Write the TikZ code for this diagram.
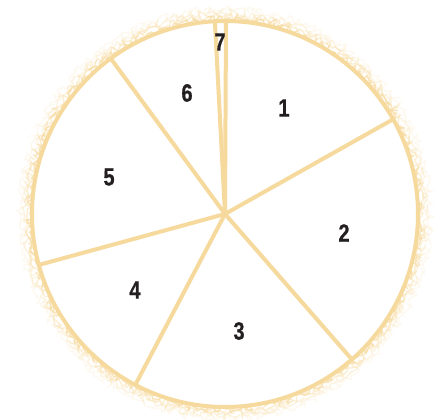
\documentclass[tikz,border=0pt]{standalone}
\usepackage{fontspec}
\setmainfont{Liberation Sans}
\newfontfamily\slicefont{Liberation Sans}[FakeStretch=0.8, FakeBold=0.6]
\usetikzlibrary{decorations.pathmorphing}
\definecolor{PieTan}{RGB}{246,217,157}
\definecolor{SliceInk}{RGB}{35,31,32}

\begin{document}
\begin{tikzpicture}[
x=1pt, y=1pt,
rim/.style={draw=PieTan, line width=4pt},
spoke/.style={draw=PieTan, line width=4pt, line cap=round},
fuzz/.style={draw=PieTan, line width=1.4pt, decorate, decoration={random steps, segment length=2.2pt, amplitude=3.5pt}},
slice/.style={font=\slicefont\bfseries\fontsize{25}{25}\selectfont, text=SliceInk, inner sep=0pt}
]
\useasboundingbox (0,0) rectangle (440,420);
\coordinate (c) at (225,206);
% rough halo round the rim
\pgfmathsetseed{11}
\foreach \w/\o in {195/0.7, 198/0.45, 201/0.3, 205/0.15}
  \draw[fuzz, opacity=\o] (c) circle (\w);
\draw[rim, fill=white] (c) circle (193);
% spokes
\foreach \a in {29.4, -48.9, -117.7, 195.3, 126.3, 93, 89.7}
  \draw[spoke] (c) -- +(\a:193);
% slice numbers
\node[slice] (n1) at (284,312) {1};
\node[slice] (n2) at (344,187) {2};
\node[slice] (n3) at (239,89) {3};
\node[slice] (n4) at (135,130) {4};
\node[slice] (n5) at (109,243) {5};
\node[slice] (n6) at (187,327) {6};
\node[slice] (n7) at (220,378) {7};
\end{tikzpicture}
\end{document}
